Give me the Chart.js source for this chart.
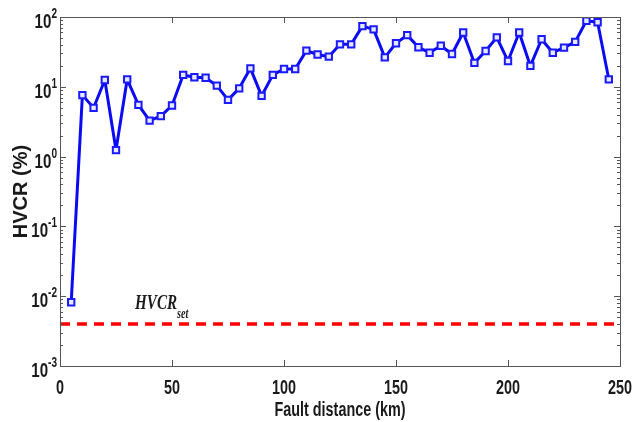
<!DOCTYPE html>
<html>
<head>
<meta charset="utf-8">
<script src="https://cdn.jsdelivr.net/npm/chart.js@4.4.1/dist/chart.umd.min.js"></script>
<style>
  html, body { margin: 0; padding: 0; background: #fff; }
  #wrap { width: 635px; height: 422px; }
</style>
</head>
<body>
<div id="wrap"><canvas id="hvcrChart" width="635" height="422"></canvas></div>
<script>
// fault distance (km) and HVCR (%)
const distances = [5, 10, 15, 20, 25, 30, 35, 40, 45, 50,
                   55, 60, 65, 70, 75, 80, 85, 90, 95, 100,
                   105, 110, 115, 120, 125, 130, 135, 140, 145, 150,
                   155, 160, 165, 170, 175, 180, 185, 190, 195, 200,
                   205, 210, 215, 220, 225, 230, 235, 240, 245];
const hvcr = [0.0082, 7.6, 5.0, 12.5, 1.24, 12.8, 5.5, 3.27, 3.8, 5.4,
              14.8, 13.7, 13.5, 10.4, 6.5, 9.5, 18.4, 7.4, 14.8, 18,
              18, 33, 29, 27, 40.6, 40.6, 74, 66.5, 26.4, 42,
              55, 36.8, 30.8, 38.8, 29.5, 60, 22, 32.6, 51, 23.4,
              60, 19.9, 48, 30.8, 36.4, 44, 88.5, 84, 12.8];
const hvcrSet = 0.004;

const xTicks = [0, 50, 100, 150, 200, 250];
const yExponents = [-3, -2, -1, 0, 1, 2];
const xTitle = 'Fault distance (km)';
const yTitle = 'HVCR (%)';

const SQ = 0.72;          // the picture is squeezed sideways, so is the text
const INK = '#1a1a1a';

function squeezedText(ctx, str, x, y, align) {
    ctx.save();
    ctx.translate(x, y);
    ctx.scale(SQ, 1);
    ctx.textAlign = align;
    ctx.fillText(str, 0, 0);
    ctx.restore();
}

// MATLAB style box, inward ticks, labels and the HVCR_set note
const axesPlugin = {
    id: 'matlabAxes',
    afterDraw(chart) {
        const ctx = chart.ctx;
        const a = chart.chartArea;
        const xs = chart.scales.x;
        const ys = chart.scales.y;

        ctx.save();
        ctx.strokeStyle = '#555';
        ctx.lineWidth = 1;
        ctx.strokeRect(a.left + 0.5, a.top + 0.5, a.right - a.left, a.bottom - a.top);

        // x ticks, bottom and top
        ctx.beginPath();
        xTicks.forEach(v => {
            const px = Math.round(xs.getPixelForValue(v)) + 0.5;
            ctx.moveTo(px, a.bottom); ctx.lineTo(px, a.bottom - 6);
            ctx.moveTo(px, a.top); ctx.lineTo(px, a.top + 6);
        });
        // y ticks, majors and minors, left and right
        yExponents.forEach(e => {
            for (let m = 1; m <= 9; m++) {
                if (e === yExponents[yExponents.length - 1] && m > 1) break;
                const py = Math.round(ys.getPixelForValue(m * Math.pow(10, e))) + 0.5;
                const len = m === 1 ? 6 : 3;
                ctx.moveTo(a.left, py); ctx.lineTo(a.left + len, py);
                ctx.moveTo(a.right, py); ctx.lineTo(a.right - len, py);
            }
        });
        ctx.stroke();

        ctx.fillStyle = INK;
        ctx.textBaseline = 'alphabetic';

        // x tick labels
        ctx.font = 'bold 20px "Liberation Sans", Arial, sans-serif';
        xTicks.forEach(v => {
            squeezedText(ctx, String(v), xs.getPixelForValue(v), a.bottom + 28, 'center');
        });

        // y tick labels 10^e
        yExponents.forEach(e => {
            const py = ys.getPixelForValue(Math.pow(10, e));
            const right = a.left - 3;
            ctx.font = 'bold 14px "Liberation Sans", Arial, sans-serif';
            const ew = ctx.measureText(String(e)).width * SQ;
            squeezedText(ctx, String(e), right, py + 1, 'right');
            ctx.font = 'bold 21px "Liberation Sans", Arial, sans-serif';
            squeezedText(ctx, '10', right - ew, py + 11, 'right');
        });

        // axis titles
        ctx.font = 'bold 20px "Liberation Sans", Arial, sans-serif';
        squeezedText(ctx, xTitle, (a.left + a.right) / 2, 416, 'center');

        ctx.save();
        ctx.translate(27, (a.top + a.bottom) / 2);
        ctx.rotate(-Math.PI / 2);
        ctx.textAlign = 'center';
        ctx.fillText(yTitle, 0, 0);
        ctx.restore();

        // HVCR_set label
        const lx = xs.getPixelForValue(33.5);
        const ly = ys.getPixelForValue(0.0066);
        ctx.font = 'italic bold 21px "Liberation Serif", "Times New Roman", serif';
        const hw = ctx.measureText('HVCR').width * SQ;
        squeezedText(ctx, 'HVCR', lx, ly, 'left');
        ctx.font = 'italic bold 14px "Liberation Serif", "Times New Roman", serif';
        squeezedText(ctx, 'set', lx + hw, ly + 9, 'left');

        ctx.restore();
    }
};

const ctx = document.getElementById('hvcrChart').getContext('2d');
const myChart = new Chart(ctx, {
    type: 'line',
    data: {
        datasets: [{
            label: 'HVCR',
            data: distances.map((d, i) => ({ x: d, y: hvcr[i] })),
            borderColor: '#0a0af5',
            borderWidth: 3,
            borderJoinStyle: 'round',
            pointStyle: 'rect',
            pointRadius: 4.5,
            pointBorderWidth: 2,
            pointBorderColor: '#1a1aff',
            pointBackgroundColor: '#e8e8ff',
            tension: 0
        }, {
            label: 'HVCR set',
            data: [{ x: xTicks[0], y: hvcrSet }, { x: xTicks[xTicks.length - 1], y: hvcrSet }],
            borderColor: '#ff0000',
            borderWidth: 3.5,
            borderDash: [10, 7],
            pointRadius: 0
        }]
    },
    options: {
        responsive: false,
        animation: false,
        layout: { padding: { left: 60, right: 15, top: 17, bottom: 56 } },
        plugins: {
            legend: { display: false },
            tooltip: { enabled: false }
        },
        scales: {
            x: {
                type: 'linear',
                display: false,
                min: xTicks[0],
                max: xTicks[xTicks.length - 1]
            },
            y: {
                type: 'logarithmic',
                display: false,
                min: Math.pow(10, yExponents[0]),
                max: Math.pow(10, yExponents[yExponents.length - 1])
            }
        }
    },
    plugins: [axesPlugin]
});
</script>
</body>
</html>
